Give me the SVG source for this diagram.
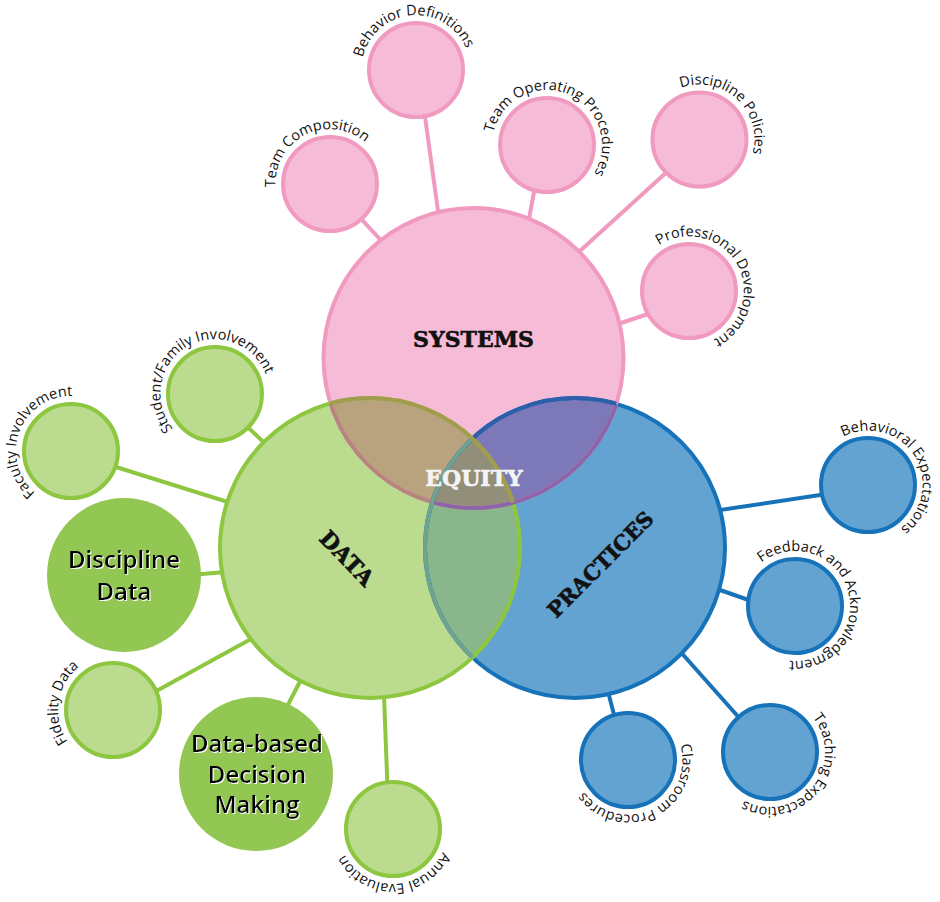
<svg xmlns="http://www.w3.org/2000/svg" width="940" height="902" viewBox="0 0 940 902">
<style>
.lbl{font-family:"Open Sans","Liberation Sans",sans-serif;font-size:14.5px;fill:#111}
.big{font-family:"DejaVu Serif",serif;font-weight:bold;font-size:22px;text-anchor:middle;stroke-width:0.6}
.inner{font-family:"Open Sans","Liberation Sans",sans-serif;font-weight:600;font-size:24px;text-anchor:middle;fill:#000;filter:url(#wsh)}
.pk{fill:#f6bbd6;stroke:#f19ac0;stroke-width:4}
.gn{fill:#bbdb8f;stroke:#8dc63f;stroke-width:4}
.dg{fill:#92c753;stroke:none}
.bl{fill:#62a3d1;stroke:#1672b9;stroke-width:4}
.cP{stroke:#f19ac0;stroke-width:4}
.cG{stroke:#8dc63f;stroke-width:4}
.cB{stroke:#1672b9;stroke-width:4}
.ns{fill:none;stroke-width:4}
</style>
<defs>
<filter id="wsh" x="-10%" y="-30%" width="120%" height="160%"><feDropShadow dx="1" dy="1" stdDeviation="0" flood-color="#ffffff" flood-opacity="1"/></filter>
<clipPath id="clP"><circle cx="473.5" cy="358" r="150"/></clipPath>
<clipPath id="clD"><circle cx="370" cy="548" r="150"/></clipPath>
<clipPath id="clB"><circle cx="575" cy="548" r="150"/></clipPath>
<path id="tBD" d="M420.79,124.79 A55,55 0 0 1 411.21,15.21 A55,55 0 0 1 420.79,124.79"/>
<path id="tTC" d="M354.54,233.22 A55,55 0 0 1 305.46,134.78 A55,55 0 0 1 354.54,233.22"/>
<path id="tTO" d="M526.40,196.00 A55,55 0 0 1 567.60,94.00 A55,55 0 0 1 526.40,196.00"/>
<path id="tDP" d="M662.34,180.05 A55,55 0 0 1 736.66,98.95 A55,55 0 0 1 662.34,180.05"/>
<path id="tPD" d="M641.37,318.5 A55,55 0 0 1 736.63,263.5 A55,55 0 0 1 641.37,318.5"/>
<path id="tSF" d="M242.91,441.39 A55,55 0 0 1 187.09,346.61 A55,55 0 0 1 242.91,441.39"/>
<path id="tFI" d="M122.35,470.71 A55,55 0 0 1 19.65,431.29 A55,55 0 0 1 122.35,470.71"/>
<path id="tFD" d="M167.40,718.13 A55,55 0 0 1 58.60,701.87 A55,55 0 0 1 167.40,718.13"/>
<path id="tAE" d="M391.56,774.02 A55,55 0 0 1 394.44,883.98 A55,55 0 0 1 391.56,774.02"/>
<path id="tBE" d="M821.36,514.14 A55,55 0 0 1 914.64,455.86 A55,55 0 0 1 821.36,514.14"/>
<path id="tFA" d="M742.13,621.16 A55,55 0 0 1 847.87,590.84 A55,55 0 0 1 742.13,621.16"/>
<path id="tCP" d="M603.89,710.57 A55,55 0 0 1 652.11,809.43 A55,55 0 0 1 603.89,710.57"/>
<path id="tTE" d="M727.56,717.01 A55,55 0 0 1 812.44,786.99 A55,55 0 0 1 727.56,717.01"/>
</defs>
<rect width="940" height="902" fill="#ffffff"/>

<g id="connectors" fill="none" stroke-linecap="butt">
<line class="cP" x1="340" y1="196" x2="401" y2="262"/>
<line class="cP" x1="420" y1="80" x2="442" y2="240"/>
<line class="cP" x1="540" y1="160" x2="526" y2="235"/>
<line class="cP" x1="680" y1="160" x2="570" y2="260"/>
<line class="cP" x1="660" y1="310" x2="600" y2="330"/>
<line class="cG" x1="230" y1="410" x2="280" y2="458"/>
<line class="cG" x1="100" y1="462" x2="250" y2="509"/>
<line class="cG" x1="190" y1="575" x2="250" y2="570"/>
<line class="cG" x1="140" y1="700" x2="260" y2="634"/>
<line class="cG" x1="280" y1="720" x2="306" y2="670"/>
<line class="cG" x1="388" y1="800" x2="383" y2="670"/>
<line class="cB" x1="840" y1="492" x2="700" y2="513"/>
<line class="cB" x1="760" y1="604" x2="700" y2="583"/>
<line class="cB" x1="618" y1="730" x2="605" y2="680"/>
<line class="cB" x1="750" y1="730" x2="670" y2="640"/>
</g>

<g id="venn">
<g id="systems-fill"><circle cx="473.5" cy="358" r="150" fill="#f6bbd6"/></g>
<g id="data-fill"><circle cx="370" cy="548" r="150" fill="#bbdb8f"/></g>
<g id="practices-fill"><circle cx="575" cy="548" r="150" fill="#62a3d1"/></g>
<circle cx="370" cy="548" r="150" fill="#b9a37f" clip-path="url(#clP)"/>
<circle cx="575" cy="548" r="150" fill="#7d78b8" clip-path="url(#clP)"/>
<circle cx="575" cy="548" r="150" fill="#89b68b" clip-path="url(#clD)"/>
<g clip-path="url(#clP)"><circle cx="575" cy="548" r="150" fill="#918e79" clip-path="url(#clD)"/></g>
<circle class="ns" cx="575" cy="548" r="150" stroke="#1672b9"/>
<circle class="ns" cx="473.5" cy="358" r="150" stroke="#f19ac0"/>
<circle class="ns" cx="370" cy="548" r="150" stroke="#8dc63f"/>
<circle class="ns" cx="473.5" cy="358" r="150" stroke="#b6867e" clip-path="url(#clD)"/>
<circle class="ns" cx="473.5" cy="358" r="150" stroke="#8b64a9" clip-path="url(#clB)"/>
<circle class="ns" cx="575" cy="548" r="150" stroke="#2d5fab" clip-path="url(#clP)"/>
<circle class="ns" cx="575" cy="548" r="150" stroke="#6ea48f" clip-path="url(#clD)"/>
<circle class="ns" cx="370" cy="548" r="150" stroke="#a39c4f" clip-path="url(#clP)"/>
<text class="big" x="473.5" y="347" fill="#111" stroke="#111">SYSTEMS</text>
<text class="big" x="474" y="486" fill="#f4f4f4" stroke="#f4f4f4">EQUITY</text>
<text class="big" transform="translate(347,558) rotate(46)" x="0" y="8" fill="#111" stroke="#111">DATA</text>
<text class="big" transform="translate(600,564) rotate(-45)" x="0" y="8" fill="#111" stroke="#111" style="font-size:21px">PRACTICES</text>
</g>

<g id="n-behavior-definitions"><circle class="pk" cx="416" cy="70" r="47"/><text class="lbl"><textPath href="#tBD" startOffset="50%" text-anchor="middle">Behavior Definitions</textPath></text></g>
<g id="n-team-composition"><circle class="pk" cx="330" cy="184" r="47"/><text class="lbl"><textPath href="#tTC" startOffset="50%" text-anchor="middle">Team Composition</textPath></text></g>
<g id="n-team-operating"><circle class="pk" cx="547" cy="145" r="47"/><text class="lbl"><textPath href="#tTO" startOffset="50%" text-anchor="middle">Team Operating Procedures</textPath></text></g>
<g id="n-discipline-policies"><circle class="pk" cx="699.5" cy="139.5" r="47"/><text class="lbl"><textPath href="#tDP" startOffset="50%" text-anchor="middle">Discipline Policies</textPath></text></g>
<g id="n-professional-development"><circle class="pk" cx="689" cy="291" r="47"/><text class="lbl"><textPath href="#tPD" startOffset="50%" text-anchor="middle">Professional Development</textPath></text></g>

<g id="n-student-family"><circle class="gn" cx="215" cy="394" r="47"/><text class="lbl"><textPath href="#tSF" startOffset="50%" text-anchor="middle">Student/Family Involvement</textPath></text></g>
<g id="n-faculty"><circle class="gn" cx="71" cy="451" r="47"/><text class="lbl"><textPath href="#tFI" startOffset="50%" text-anchor="middle">Faculty Involvement</textPath></text></g>
<g id="n-discipline-data"><circle class="dg" cx="124" cy="575" r="77"/>
<text class="inner" x="124" y="568">Discipline</text><text class="inner" x="124" y="600">Data</text></g>
<g id="n-fidelity"><circle class="gn" cx="113" cy="710" r="47"/><text class="lbl"><textPath href="#tFD" startOffset="50%" text-anchor="middle">Fidelity Data</textPath></text></g>
<g id="n-dbdm"><circle class="dg" cx="256" cy="774" r="77"/>
<text class="inner" x="257" y="752">Data-based</text><text class="inner" x="257" y="783">Decision</text><text class="inner" x="257" y="813">Making</text></g>
<g id="n-annual"><circle class="gn" cx="393" cy="829" r="47"/><text class="lbl"><textPath href="#tAE" startOffset="50%" text-anchor="middle">Annual Evaluation</textPath></text></g>

<g id="n-behavioral-expectations"><circle class="bl" cx="868" cy="485" r="47"/><text class="lbl"><textPath href="#tBE" startOffset="50%" text-anchor="middle">Behavioral Expectations</textPath></text></g>
<g id="n-feedback"><circle class="bl" cx="795" cy="606" r="47"/><text class="lbl"><textPath href="#tFA" startOffset="50%" text-anchor="middle">Feedback and Acknowledgment</textPath></text></g>
<g id="n-classroom"><circle class="bl" cx="628" cy="760" r="47"/><text class="lbl"><textPath href="#tCP" startOffset="50%" text-anchor="middle">Classroom Procedures</textPath></text></g>
<g id="n-teaching"><circle class="bl" cx="770" cy="752" r="47"/><text class="lbl"><textPath href="#tTE" startOffset="50%" text-anchor="middle">Teaching Expectations</textPath></text></g>
</svg>
